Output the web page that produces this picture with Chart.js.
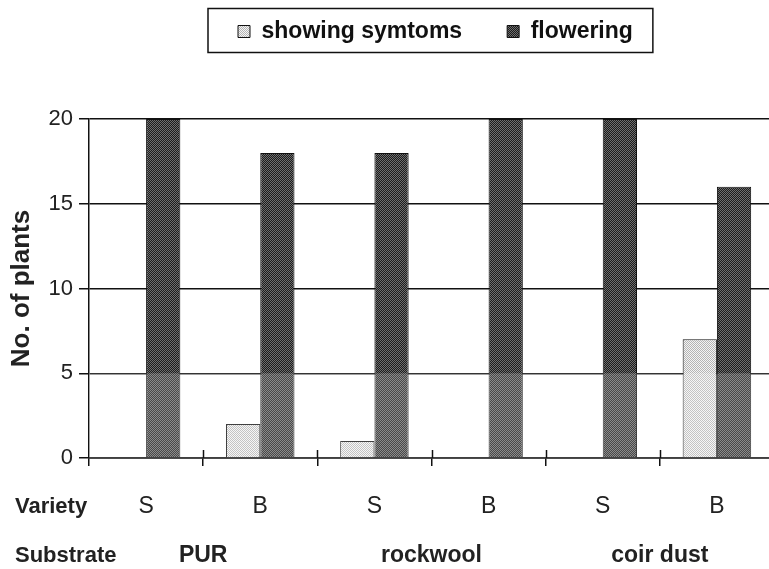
<!DOCTYPE html>
<html>
<head>
<meta charset="utf-8">
<script src="https://cdn.jsdelivr.net/npm/chart.js@4.4.1/dist/chart.umd.min.js"></script>
<style>
  html, body { margin: 0; padding: 0; background: #fff; overflow: hidden; }
  #wrap { width: 769px; height: 569px; overflow: hidden; }
</style>
</head>
<body>
<div id="wrap"><canvas id="plantsChart" width="774" height="569"></canvas></div>
<script>
// --- data ---
const varieties = ['S', 'B', 'S', 'B', 'S', 'B'];
const substrates = ['PUR', 'rockwool', 'coir dust'];
const showingSymptoms = [0, 2, 1, 0, 0, 7];
const flowering = [20, 18, 18, 20, 20, 16];
const yTicks = [0, 5, 10, 15, 20];

// 2x2 checker fills like the old spreadsheet hatch
function makePattern(a, b) {
  const c = document.createElement('canvas');
  c.width = 2; c.height = 2;
  const g = c.getContext('2d');
  g.fillStyle = a;
  g.fillRect(0, 0, 2, 2);
  g.fillStyle = b;
  g.fillRect(0, 0, 1, 1);
  g.fillRect(1, 1, 1, 1);
  return g.createPattern(c, 'repeat');
}
const lightFill = makePattern('#f4f4f4', '#b4b4b4');
const darkFill = makePattern('#1c1c1c', '#6e6e6e');

const FONT = 'Liberation Sans, Arial, sans-serif';

// legend block: fixed height, then moved where the scan has it
const legendPlace = {
  id: 'legendPlace',
  beforeInit(chart) {
    const fit = chart.legend.fit;
    chart.legend.fit = function () {
      fit.bind(chart.legend)();
      this.height = 119;
    };
  },
  afterUpdate(chart) {
    const lg = chart.legend;
    const hb = lg.legendHitBoxes;
    if (!hb || !hb.length) return;
    const dx = 238 - hb[0].left;
    const dy = 31.5 - (hb[0].top + hb[0].height / 2);
    lg.left += dx; lg.right += dx;
    lg.top += dy;
    hb.forEach(b => { b.left += dx; b.top += dy; });
  }
};

// lighter band near the bottom (watermark in the scan)
const washBand = {
  id: 'washBand',
  afterDatasetsDraw(chart) {
    const { ctx, chartArea } = chart;
    const y = chart.scales.y;
    ctx.save();
    ctx.fillStyle = 'rgba(255,255,255,0.2)';
    ctx.fillRect(chartArea.left, y.getPixelForValue(5), chartArea.right - chartArea.left, y.getPixelForValue(0) - y.getPixelForValue(5));
    ctx.restore();
  }
};

// box round legend, row captions, upward tick marks
const extras = {
  id: 'extras',
  afterDraw(chart) {
    const { ctx } = chart;
    const boxes = chart.legend.legendHitBoxes;
    if (boxes && boxes.length) {
      const first = boxes[0], last = boxes[boxes.length - 1];
      ctx.save();
      ctx.strokeStyle = '#111';
      ctx.lineWidth = 1.5;
      ctx.strokeRect(first.left - 30, 8.5, last.left + last.width - first.left + 50, 44);
      ctx.restore();
    }

    const x = chart.scales.x, x2 = chart.scales.x2;
    ctx.save();
    ctx.fillStyle = '#222';
    ctx.font = 'bold 22px ' + FONT;
    ctx.textBaseline = 'middle';
    ctx.textAlign = 'left';
    ctx.fillText('Variety', 15, x.top + 8 + 27 + 13.8);
    ctx.fillText('Substrate', 15, x2.top + 14 + 13.8);

    ctx.strokeStyle = '#111';
    ctx.lineWidth = 1.5;
    const half = (x.getPixelForValue(1) - x.getPixelForValue(0)) / 2;
    for (let i = 1; i < varieties.length; i++) {
      const px = Math.round(x.getPixelForValue(i) - half) + 0.5;
      ctx.beginPath();
      ctx.moveTo(px, x.top - 8);
      ctx.lineTo(px, x.top);
      ctx.stroke();
    }
    ctx.restore();
  }
};

new Chart(document.getElementById('plantsChart'), {
  type: 'bar',
  data: {
    labels: varieties,
    datasets: [
      {
        label: 'showing symtoms',
        data: showingSymptoms,
        backgroundColor: lightFill,
        borderColor: '#111',
        borderWidth: 1,
        categoryPercentage: 0.6,
        barPercentage: 1.0
      },
      {
        label: 'flowering',
        data: flowering,
        backgroundColor: darkFill,
        borderColor: '#111',
        borderWidth: 1,
        categoryPercentage: 0.6,
        barPercentage: 1.0
      }
    ]
  },
  options: {
    responsive: false,
    animation: false,
    layout: { padding: 0 },
    plugins: {
      tooltip: { enabled: false },
      legend: {
        position: 'top',
        labels: {
          color: '#111',
          font: { family: FONT, size: 23, weight: 'bold' },
          boxWidth: 12,
          boxHeight: 12,
          padding: 45
        }
      }
    },
    scales: {
      x: {
        type: 'category',
        offset: true,
        afterFit(s) { s.height = 70; },
        grid: { display: true, drawOnChartArea: false, drawTicks: true, tickLength: 8, color: '#111', lineWidth: 1.5 },
        border: { color: '#111', width: 1.5 },
        ticks: { color: '#222', font: { family: FONT, size: 23 }, padding: 27 }
      },
      x2: {
        type: 'category',
        labels: substrates,
        position: 'bottom',
        offset: true,
        afterFit(s) { s.height = 41; },
        grid: { display: false, drawTicks: false },
        border: { display: false },
        ticks: { color: '#222', font: { family: FONT, size: 23, weight: 'bold' }, padding: 14 }
      },
      y: {
        min: 0,
        max: 20,
        afterFit(s) { s.width = 89; },
        afterBuildTicks(axis) { axis.ticks = yTicks.map(v => ({ value: v })); },
        grid: { color: '#111', lineWidth: 1.5, tickLength: 10 },
        border: { color: '#111', width: 1.5 },
        ticks: { color: '#222', font: { family: FONT, size: 22 }, padding: 6 },
        title: {
          display: true,
          text: 'No. of plants',
          color: '#222',
          font: { family: FONT, size: 26, weight: 'bold' },
          padding: { top: 6, bottom: 0 }
        }
      }
    }
  },
  plugins: [legendPlace, washBand, extras]
});
</script>
</body>
</html>
